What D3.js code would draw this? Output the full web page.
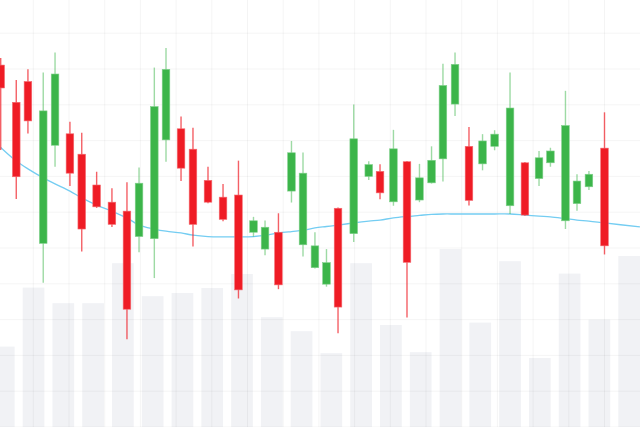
<!DOCTYPE html>
<head>
    <script src="https://d3js.org/d3.v7.min.js"></script>
    <style>
      body { margin: 0; background: #fff; }
    </style>
</head>

<body>
    <div id="candles"></div>
</body>

<script>

  const width = 640, height = 427;

  // session times (candle positions along the time axis)
  const times = [0, 1.16, 2.03, 3.17, 4.05, 5.16, 6.04, 7.15, 8.29, 9.41,
    10.31, 11.45, 12.32, 13.44, 14.33, 15.45, 16.57, 17.72, 18.84, 19.70,
    20.70, 21.67, 22.53, 23.42, 24.28, 25.14, 26.31, 27.43, 28.27, 29.27,
    30.28, 31.21, 32.11, 32.96, 33.86, 34.90, 35.91, 36.81, 37.96, 39.07,
    40.12, 40.97, 42.09, 42.95, 43.84, 45.0];

  const opens = [101.1, 90.7, 96.5, 51.3, 78.7, 81.9, 76.2, 67.6, 62.8, 60.3,
    53.2, 52.6, 80.2, 83.3, 77.6, 68.9, 64.2, 64.8, 54.4, 49.7,
    54.4, 65.9, 50.9, 44.5, 39.9, 61.1, 54.0, 70.0, 71.4, 62.9,
    74.1, 63.4, 68.2, 74.9, 90.2, 78.4, 73.5, 78.4, 61.8, 73.8,
    69.4, 73.8, 57.6, 62.4, 67.1, 77.9];

  const closes = [94.7, 69.9, 85.5, 88.3, 98.6, 70.9, 55.3, 61.5, 56.6, 32.9,
    68.1, 89.5, 99.9, 72.3, 56.6, 62.8, 58.0, 38.3, 57.6, 55.8,
    39.7, 76.6, 70.9, 50.6, 45.9, 33.5, 80.5, 73.3, 65.4, 77.7,
    46.0, 69.6, 74.5, 95.4, 101.3, 63.3, 79.9, 81.8, 89.1, 59.2,
    75.2, 77.1, 84.2, 68.7, 70.6, 50.6];

  const highs = [103.1, 96.9, 99.9, 99.0, 104.6, 85.3, 82.2, 71.3, 66.7, 68.4,
    72.5, 100.4, 105.9, 86.7, 83.6, 72.7, 67.9, 74.4, 58.7, 57.7,
    59.7, 79.9, 76.7, 54.4, 49.7, 61.3, 90.1, 74.2, 73.4, 83.0,
    74.3, 73.5, 78.4, 101.5, 104.6, 83.8, 81.8, 82.9, 99.0, 74.0,
    77.1, 78.0, 93.9, 70.6, 71.5, 87.9];

  const lows = [77.4, 63.7, 82.0, 40.3, 72.7, 67.3, 49.0, 61.2, 55.9, 24.5,
    48.8, 41.6, 74.1, 68.7, 50.4, 62.5, 57.5, 35.9, 53.2, 48.0,
    38.5, 62.7, 47.6, 44.3, 39.2, 26.2, 51.7, 69.0, 63.6, 61.8,
    30.6, 62.8, 68.0, 68.6, 86.9, 61.9, 71.7, 77.3, 59.5, 59.0,
    67.3, 72.7, 55.3, 60.4, 66.2, 48.2];

  // moving average
  const maTimes = times.concat([47.64]);
  const maValues = [78.1, 74.3, 72.1, 69.6, 67.9, 65.9, 64.0, 62.0, 60.3, 58.4,
    56.4, 55.3, 54.7, 54.2, 53.6, 53.2, 53.1, 53.1, 53.2, 53.5,
    54.2, 54.6, 54.9, 55.6, 56.0, 56.4, 57.0, 57.5, 57.8, 58.4,
    58.8, 59.1, 59.4, 59.5, 59.5, 59.5, 59.5, 59.5, 59.5, 59.2,
    58.9, 58.7, 58.2, 57.8, 57.5, 57.0, 55.9];

  // volume bars
  const volumes = [40.2, 69.7, 61.9, 61.9, 81.9, 65.4, 67.0, 69.5, 76.5, 54.9,
    47.9, 36.9, 81.9, 51.0, 37.4, 89.0, 52.2, 82.9, 34.5, 76.7,
    53.7, 85.5];

  const candles = times.map((t, i) => ({
    t: t, open: opens[i], close: closes[i], high: highs[i], low: lows[i]
  }));

  const up = "#3cb54a", down = "#ef1c25";

  const svg = d3.select("#candles")
    .append("svg")
    .attr("width", width)
    .attr("height", height)
    .style("display", "block");

  svg.append("rect")
    .attr("width", width).attr("height", height)
    .attr("fill", "#fff");

  const x = d3.scaleLinear()
    .domain([0, 45])
    .range([0.7, 604.5]);

  const y = d3.scaleLinear()
    .domain([0, 110])
    .range([height, 33.2]);

  // volume scales
  const vx = d3.scaleLinear()
    .domain([0, volumes.length - 1])
    .range([-7.1, 618.3]);
  const vy = d3.scaleLinear()
    .domain([0, 100])
    .range([height, 227]);
  const vWidth = 21.7;

  svg.append("g")
    .selectAll("rect")
    .data(volumes)
    .join("rect")
    .attr("x", (d, i) => vx(i))
    .attr("y", d => vy(d))
    .attr("width", vWidth)
    .attr("height", d => vy(0) - vy(d))
    .attr("fill", "#f1f2f5");

  // grid
  const gx = d3.scaleLinear().domain([0, 1]).range([33.3, 69]);
  const grid = svg.append("g")
    .attr("stroke", "rgba(0,0,0,0.045)")
    .attr("stroke-width", 1);

  grid.selectAll("line.h")
    .data(d3.range(0, 120, 10))
    .join("line")
    .attr("class", "h")
    .attr("x1", 0).attr("x2", width)
    .attr("y1", d => y(d)).attr("y2", d => y(d));

  grid.selectAll("line.v")
    .data(d3.range(0, 17))
    .join("line")
    .attr("class", "v")
    .attr("x1", d => gx(d)).attr("x2", d => gx(d))
    .attr("y1", 0).attr("y2", height);

  // moving average line
  const ma = maTimes.map((t, i) => [t, maValues[i]]);
  svg.append("path")
    .datum(ma)
    .attr("fill", "none")
    .attr("stroke", "#74cdf2")
    .attr("stroke-width", 1.3)
    .attr("d", d3.line()
      .x(d => x(d[0]))
      .y(d => y(d[1]))
      .curve(d3.curveCatmullRom));

  // candles
  const bodyW = 7.6;
  const g = svg.append("g")
    .selectAll("g")
    .data(candles)
    .join("g");

  g.append("line")
    .attr("x1", d => x(d.t)).attr("x2", d => x(d.t))
    .attr("y1", d => y(d.high)).attr("y2", d => y(d.low))
    .attr("stroke", d => d.close >= d.open ? up : down)
    .attr("stroke-opacity", d => d.close >= d.open ? 0.5 : 0.7)
    .attr("stroke-width", 1.4);

  g.append("rect")
    .attr("x", d => x(d.t) - bodyW / 2)
    .attr("y", d => y(Math.max(d.open, d.close)))
    .attr("width", bodyW)
    .attr("height", d => Math.abs(y(d.open) - y(d.close)))
    .attr("fill", d => d.close >= d.open ? up : down)
    .attr("stroke", d => d.close >= d.open ? "#7fd08a" : "#f46a70")
    .attr("stroke-width", 0.6);

</script>
